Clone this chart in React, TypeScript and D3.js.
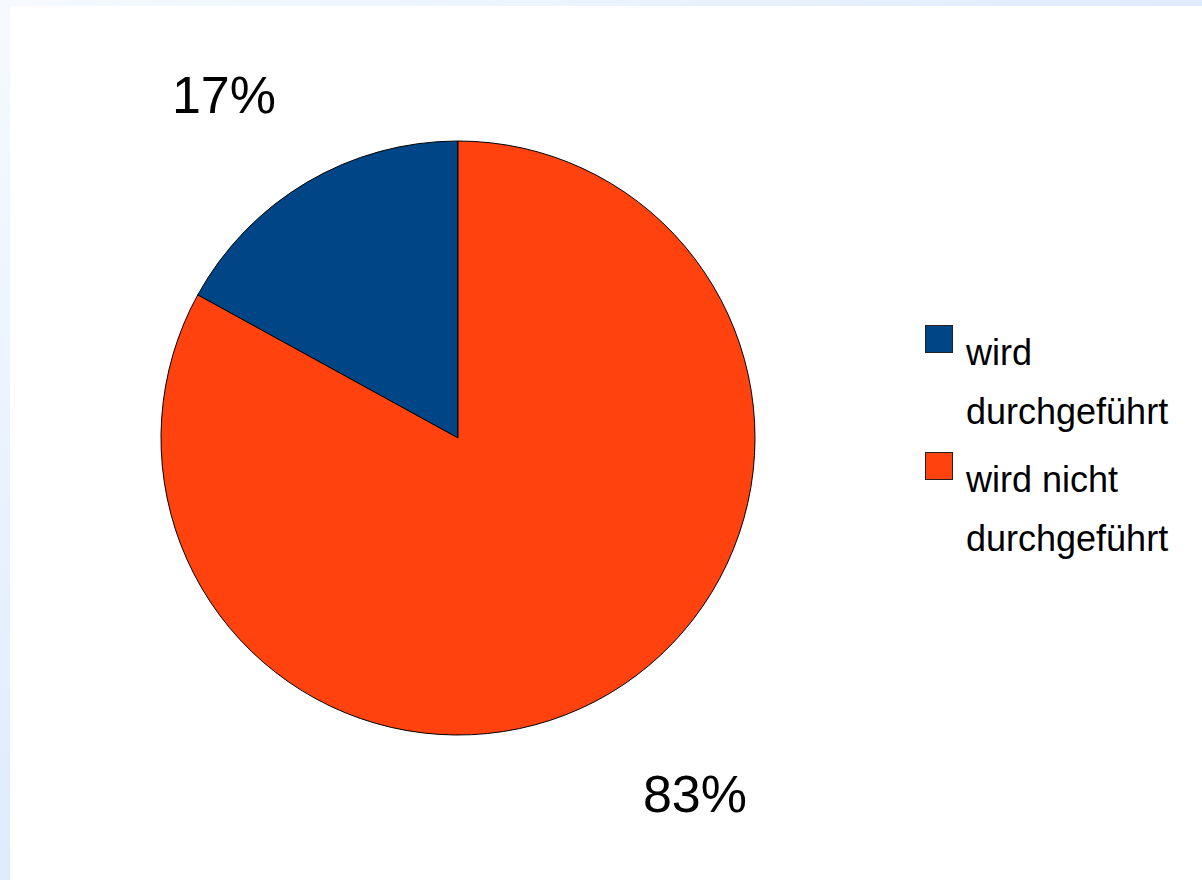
import React from "react";
import * as d3 from "d3";

const categories = ["wird durchgeführt", "wird nicht durchgeführt"];
const legendLines = [["wird", "durchgeführt"], ["wird nicht", "durchgeführt"]];
const values = [17, 83];
const percentLabels = ["17%", "83%"];
const colors = ["#004586", "#ff420e"];

const W = 1202;
const H = 880;
const cx = 458;
const cy = 438;
const R = 297;

export default function App() {
  const total = d3.sum(values);
  const startA = -2 * Math.PI * (values[0] / total);
  const pie = d3
    .pie<number>()
    .sort(null)
    .value((d) => d)
    .startAngle(startA)
    .endAngle(startA + 2 * Math.PI);
  const arcs = pie(values);
  const arc = d3.arc<d3.PieArcDatum<number>>().innerRadius(0).outerRadius(R);

  const labelPos = [
    { x: 224, y: 113 },
    { x: 695, y: 812 },
  ];

  const color = d3.scaleOrdinal<string, string>().domain(categories).range(colors);

  return (
    <svg
      width={W}
      height={H}
      style={{ position: "absolute", left: 0, top: 0, display: "block" }}
      fontFamily="'Liberation Sans', Arial, sans-serif"
    >
      <defs>
        <linearGradient id="bg" x1="0" y1="0" x2="1" y2="1">
          <stop offset="0" stopColor="#f6faff" />
          <stop offset="1" stopColor="#c6ddff" />
        </linearGradient>
      </defs>
      <rect x={0} y={0} width={W} height={H} fill="url(#bg)" />
      <rect x={10} y={6} width={W - 10} height={H - 6} fill="#ffffff" />
      <g transform={`translate(${cx},${cy})`}>
        {arcs.map((a, i) => (
          <path
            key={i}
            d={arc(a) || ""}
            fill={color(categories[i])}
            stroke="#000"
            strokeWidth={1}
            strokeLinejoin="round"
          />
        ))}
      </g>
      {percentLabels.map((t, i) => (
        <text key={t} x={labelPos[i].x} y={labelPos[i].y} fontSize={52} textAnchor="middle" fill="#000">
          {t}
        </text>
      ))}
      {categories.map((c, i) => (
        <g key={c}>
          <rect
            x={925.5}
            y={325.5 + i * 127}
            width={27}
            height={27}
            fill={color(c)}
            stroke="#222"
            strokeWidth={1}
          />
          {legendLines[i].map((line, j) => (
            <text key={j} x={966} y={365 + i * 127 + j * 59} fontSize={36} fill="#000">
              {line}
            </text>
          ))}
        </g>
      ))}
    </svg>
  );
}
